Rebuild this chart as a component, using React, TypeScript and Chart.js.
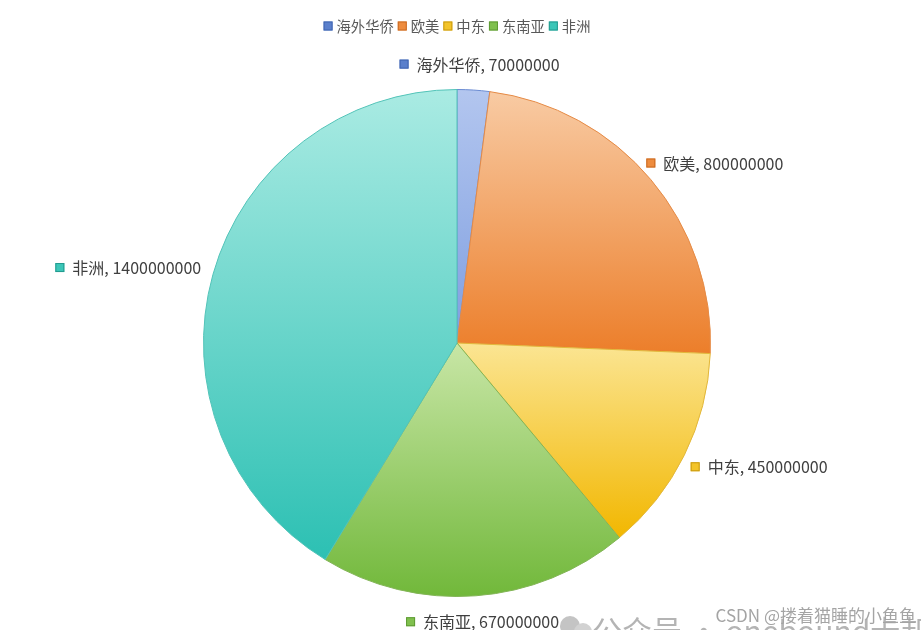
import { useEffect, useRef } from "react";
import { Chart, registerables } from "chart.js";
Chart.register(...registerables);

const regions = ["海外华侨", "欧美", "中东", "东南亚", "非洲"];
const population = [70000000, 800000000, 450000000, 670000000, 1400000000];

// top-of-slice / bottom-of-slice gradient colours
const lightColors = ["#b3c6ef", "#f8cba4", "#fbe593", "#c8e6a6", "#aaebe3"];
const deepColors = ["#7f9fe0", "#ec7e2a", "#f2b700", "#71b83a", "#2cc0b3"];
const edgeColors = ["#6a8bd2", "#e58a45", "#e2b73a", "#82b456", "#52c3b8"];
const markColors = ["#5b80cc", "#ee8c3e", "#f3c42a", "#80c04e", "#3cc6b8"];
const markEdges = ["#3f64b0", "#c96a22", "#c99a10", "#5e9a34", "#239a8f"];

const FONT = '"Noto Sans CJK SC", "Noto Sans", sans-serif';

const sum = (arr: number[]) => arr.reduce((a, b) => a + b, 0);

const sliceGradient = (chart: Chart, i: number) => {
  const area = chart.chartArea;
  if (!area) return deepColors[i];
  const cy = (area.top + area.bottom) / 2;
  const r = Math.min(area.right - area.left, area.bottom - area.top) / 2;
  const total = sum(population);
  const a0 = -Math.PI / 2 + (sum(population.slice(0, i)) / total) * Math.PI * 2;
  const a1 = a0 + (population[i] / total) * Math.PI * 2;
  const ys = [cy, cy + r * Math.sin(a0), cy + r * Math.sin(a1)];
  for (const t of [-Math.PI / 2, Math.PI / 2, (3 * Math.PI) / 2]) {
    if (t >= a0 && t <= a1) ys.push(cy + r * Math.sin(t));
  }
  const g = chart.ctx.createLinearGradient(0, Math.min(...ys), 0, Math.max(...ys));
  g.addColorStop(0, lightColors[i]);
  g.addColorStop(1, deepColors[i]);
  return g;
};

const drawMark = (ctx: CanvasRenderingContext2D, x: number, y: number, i: number) => {
  ctx.fillStyle = markColors[i];
  ctx.fillRect(x, y, 9, 9);
  ctx.strokeStyle = markEdges[i];
  ctx.lineWidth = 1;
  ctx.strokeRect(x + 0.5, y + 0.5, 8, 8);
};

const outsideLabels = {
  id: "outsideLabels",
  afterDatasetsDraw(chart: Chart) {
    const { ctx } = chart;
    const meta = chart.getDatasetMeta(0);
    ctx.save();
    ctx.font = `16px ${FONT}`;
    ctx.textBaseline = "middle";
    meta.data.forEach((arc: any, i: number) => {
      const { x, y, startAngle, endAngle, outerRadius } = arc.getProps(
        ["x", "y", "startAngle", "endAngle", "outerRadius"],
        true
      );
      const mid = (startAngle + endAngle) / 2;
      const dx = Math.cos(mid);
      const dy = Math.sin(mid);
      const ax = x + dx * (outerRadius + 15);
      const ay = y + dy * (outerRadius + 15);
      const text = `${regions[i]}, ${population[i]}`;
      const w = 17 + ctx.measureText(text).width;
      const h = 22;
      const left = ax + (w * (dx - 1)) / 2;
      const top = ay + (h * (dy - 1)) / 2;
      const cy = top + h / 2;
      drawMark(ctx, left, cy - 4.5, i);
      ctx.fillStyle = "#404040";
      ctx.fillText(text, left + 17, cy + 0.5);
    });
    ctx.restore();
  },
};

const topLegend = {
  id: "topLegend",
  afterDraw(chart: Chart) {
    const { ctx, chartArea } = chart;
    ctx.save();
    ctx.font = `14.3px ${FONT}`;
    ctx.textBaseline = "middle";
    const widths = regions.map((r) => 13 + ctx.measureText(r).width);
    const total = sum(widths) + 4 * (regions.length - 1);
    let x = (chartArea.left + chartArea.right) / 2 - total / 2;
    const y = 26;
    regions.forEach((r, i) => {
      drawMark(ctx, x, y - 4.5, i);
      ctx.fillStyle = "#595959";
      ctx.fillText(r, x + 13, y + 1);
      x += widths[i] + 4;
    });

    // page watermarks
    ctx.fillStyle = "#c4c4c4";
    ctx.beginPath();
    ctx.arc(570, 626, 10, 0, Math.PI * 2);
    ctx.fill();
    ctx.fillStyle = "#d2d2d2";
    ctx.beginPath();
    ctx.arc(583, 632, 9, 0, Math.PI * 2);
    ctx.fill();
    ctx.font = `30px ${FONT}`;
    ctx.fillStyle = "#b4b4b4";
    ctx.fillText("公众号 · onebound卡邦", 592, 631);
    ctx.font = `17px ${FONT}`;
    ctx.fillStyle = "#a4a4a4";
    ctx.textAlign = "right";
    ctx.fillText("CSDN @搂着猫睡的小鱼鱼", 916, 616);
    ctx.restore();
  },
};

const App = () => {
  const canvasRef = useRef<HTMLCanvasElement>(null);
  const chartRef = useRef<Chart | null>(null);

  useEffect(() => {
    if (chartRef.current) {
      chartRef.current.destroy();
      chartRef.current = null;
    }

    chartRef.current = new Chart(canvasRef.current!, {
      type: "pie",
      data: {
        labels: regions,
        datasets: [
          {
            data: population,
            backgroundColor: (c: any) => sliceGradient(c.chart, c.dataIndex),
            borderColor: edgeColors,
            borderWidth: 1,
            hoverOffset: 0,
            offset: 0,
          },
        ],
      },
      options: {
        responsive: false,
        animation: false,
        layout: {
          padding: { top: 89, bottom: 33, left: 100, right: 107 },
        },
        plugins: {
          legend: { display: false },
          tooltip: { enabled: false },
        },
      },
      plugins: [outsideLabels, topLegend],
    });

    return () => {
      if (chartRef.current) {
        chartRef.current.destroy();
        chartRef.current = null;
      }
    };
  }, []);

  return (
    <div style={{ position: "fixed", left: 0, top: 0, width: 921, height: 630, background: "#fff" }}>
      <canvas ref={canvasRef} width={921} height={630} />
    </div>
  );
};

export default App;
